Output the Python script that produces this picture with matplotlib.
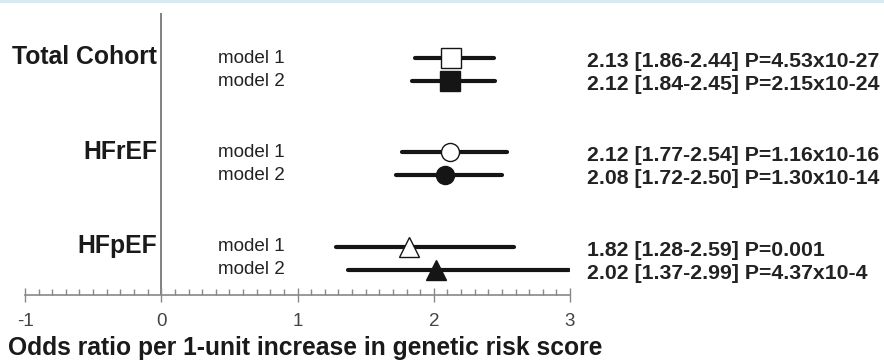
import matplotlib
matplotlib.use('Agg')
import matplotlib.pyplot as plt
from matplotlib.ticker import MultipleLocator
from matplotlib.lines import Line2D

plt.rcParams['font.family'] = ['Liberation Sans', 'DejaVu Sans']

# data
groups = ['Total Cohort', 'HFrEF', 'HFpEF']
models = ['model 1', 'model 2']
odds = [2.13, 2.12, 2.12, 2.08, 1.82, 2.02]
ci_low = [1.86, 1.84, 1.77, 1.72, 1.28, 1.37]
ci_high = [2.44, 2.45, 2.54, 2.50, 2.59, 2.99]
p_text = ['4.53x10-27', '2.15x10-24', '1.16x10-16', '1.30x10-14', '0.001', '4.37x10-4']
markers = ['s', 's', 'o', 'o', '^', '^']
filled = [False, True, False, True, False, True]
x_ticks = [-1, 0, 1, 2, 3]

W, H = 884, 362
fig = plt.figure(figsize=(W / 100, H / 100), dpi=100)
ax = fig.add_axes([25 / W, (H - 295) / H, (570 - 25) / W, (295 - 13) / H])
ax.set_xlim(-1, 3)
ax.set_ylim(2.39, -0.6)

dark = '#151515'
gap = 0.122
rows = []
for g in range(len(groups)):
    rows += [g - gap, g + gap]

ax.axvline(0, color='#777777', lw=1.3, zorder=1)

for i, y in enumerate(rows):
    ax.plot([ci_low[i], ci_high[i]], [y, y], color=dark, lw=3.0,
            solid_capstyle='round', zorder=2)
    ms = 13 if markers[i] == 'o' else 14
    ax.plot(odds[i], y, marker=markers[i], ms=ms, mec=dark, mew=1.0,
            mfc=dark if filled[i] else 'white', zorder=3, clip_on=False)
    ax.text(3.125, y + 0.035, '%.2f [%.2f-%.2f] P=%s' % (odds[i], ci_low[i], ci_high[i], p_text[i]),
            fontsize=15.3, fontweight='bold', color='#222222', va='center', ha='left',
            clip_on=False)
    ax.text(0.42, y, models[i % 2], fontsize=13.6, color='#222222', va='center',
            ha='left', clip_on=False)

for g, name in enumerate(groups):
    ax.text(-0.03, g - 0.13, name, fontsize=17.8, fontweight='bold', color='#1a1a1a',
            ha='right', va='center', clip_on=False)

for s in ['top', 'right', 'left']:
    ax.spines[s].set_visible(False)
ax.spines['bottom'].set_color('#888888')
ax.spines['bottom'].set_linewidth(1.2)
ax.set_yticks([])
ax.set_xticks(x_ticks)
ax.set_xticklabels([str(t) for t in x_ticks])
ax.xaxis.set_minor_locator(MultipleLocator(0.1))
ax.tick_params(axis='x', which='major', direction='inout', length=10, width=1.0,
               color='#888888', labelsize=13.5, labelcolor='#444444', pad=8)
ax.tick_params(axis='x', which='minor', direction='in', length=4, width=1.0,
               color='#888888')

fig.text(8 / W, 7 / H, 'Odds ratio per 1-unit increase in genetic risk score',
         fontsize=17.7, fontweight='bold', color='#1a1a1a', ha='left', va='baseline')

fig.add_artist(Line2D([0, 1], [1 - 1 / H, 1 - 1 / H], transform=fig.transFigure,
                      color='#d5e8f3', lw=2))

fig.savefig('out.png', dpi=100)
